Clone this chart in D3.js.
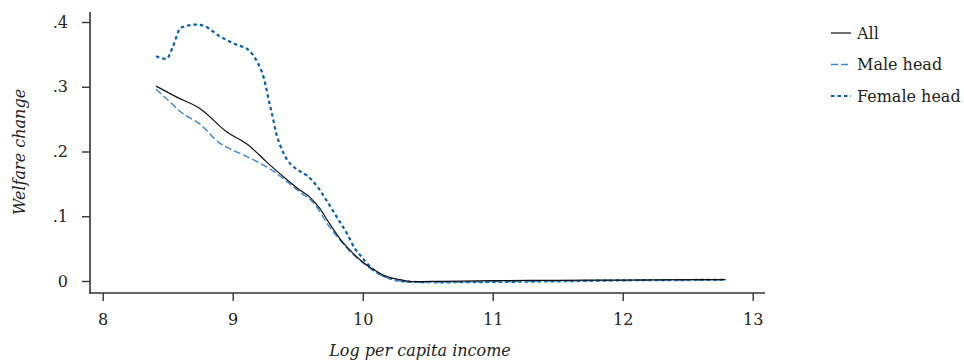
<!DOCTYPE html>
<html>
<head>
<meta charset="utf-8">
<script src="https://cdn.jsdelivr.net/npm/d3@7"></script>
<style>
  body { margin: 0; background: #fff; }
  svg text { font-family: "DejaVu Serif", serif; fill: #222; }
</style>
</head>
<body>
<div id="chart"></div>
<script>
// log per capita income (x) and welfare change (y)
var xAll = [8.41, 8.57, 8.75, 8.95, 9.12, 9.26, 9.39, 9.50, 9.60, 9.67, 9.75, 9.83, 9.90, 9.99, 10.08, 10.16, 10.29, 10.39, 10.6, 11.0, 11.5, 12.0, 12.5, 12.79];
var yAll = [0.301, 0.284, 0.266, 0.231, 0.210, 0.184, 0.161, 0.143, 0.128, 0.112, 0.087, 0.064, 0.048, 0.031, 0.018, 0.009, 0.002, -0.001, -0.0005, 0.0005, 0.001, 0.0015, 0.002, 0.0022];

var xMale = [8.41, 8.50, 8.60, 8.75, 8.90, 9.00, 9.10, 9.19, 9.31, 9.42, 9.52, 9.62, 9.75, 9.83, 9.90, 9.99, 10.08, 10.16, 10.29, 10.39, 10.6, 11.0, 11.5, 12.0, 12.5, 12.79];
var yMale = [0.296, 0.280, 0.261, 0.242, 0.213, 0.202, 0.193, 0.184, 0.170, 0.153, 0.137, 0.121, 0.082, 0.062, 0.046, 0.030, 0.016, 0.007, 0.000, -0.002, -0.002, -0.001, 0.0, 0.001, 0.0015, 0.002];

var xFemale = [8.41, 8.49, 8.54, 8.60, 8.72, 8.79, 8.90, 9.03, 9.12, 9.19, 9.24, 9.28, 9.31, 9.33, 9.37, 9.42, 9.47, 9.52, 9.57, 9.65, 9.72, 9.80, 9.88, 9.94, 9.98, 10.08, 10.21, 10.34, 10.6, 11.0, 11.5, 12.0, 12.5, 12.79];
var yFemale = [0.347, 0.343, 0.362, 0.391, 0.396, 0.393, 0.378, 0.365, 0.357, 0.338, 0.313, 0.277, 0.251, 0.232, 0.207, 0.187, 0.176, 0.169, 0.163, 0.146, 0.125, 0.099, 0.073, 0.050, 0.040, 0.018, 0.004, -0.001, -0.002, -0.0015, -0.0005, 0.001, 0.0015, 0.002];

var xTicks = [8, 9, 10, 11, 12, 13];
var yTicks = [0, 0.1, 0.2, 0.3, 0.4];
var yTickLabels = ["0", ".1", ".2", ".3", ".4"];
var seriesNames = ["All", "Male head", "Female head"];

var width = 964, height = 360;
var svg = d3.select("#chart").append("svg")
  .attr("width", width)
  .attr("height", height);

var x = d3.scaleLinear().domain([8, 13]).range([102.7, 752.7]);
var y = d3.scaleLinear().domain([0, 0.4]).range([281, 22]);

var axisColor = "#333";
var fontSize = "16px";

// axis lines
svg.append("line")
  .attr("x1", 90).attr("x2", 90).attr("y1", 12).attr("y2", 293.5)
  .style("stroke", axisColor).style("stroke-width", 1.6);
svg.append("line")
  .attr("x1", 89.2).attr("x2", 765).attr("y1", 293).attr("y2", 293)
  .style("stroke", axisColor).style("stroke-width", 1.6);

var yAxis = svg.append("g")
  .attr("transform", "translate(90,0)")
  .call(d3.axisLeft(y).tickValues(yTicks)
    .tickFormat(function (d, i) { return yTickLabels[i]; })
    .tickSize(8).tickPadding(14));
yAxis.select(".domain").remove();

var xAxis = svg.append("g")
  .attr("transform", "translate(0,293)")
  .call(d3.axisBottom(x).tickValues(xTicks).tickFormat(d3.format("d"))
    .tickSize(8).tickPadding(13));
xAxis.select(".domain").remove();

svg.selectAll(".tick line").style("stroke", axisColor).style("stroke-width", 1.4);
svg.selectAll(".tick text")
  .style("font-family", "DejaVu Serif, serif")
  .style("font-size", fontSize)
  .style("fill", "#222");

// axis titles
svg.append("text")
  .attr("x", 420).attr("y", 356)
  .attr("text-anchor", "middle")
  .style("font-size", fontSize)
  .style("font-style", "italic")
  .text("Log per capita income");

svg.append("text")
  .attr("transform", "translate(25,152) rotate(-90)")
  .attr("text-anchor", "middle")
  .style("font-size", fontSize)
  .style("font-style", "italic")
  .text("Welfare change");

// lines
var line = d3.line()
  .x(function (d) { return x(d[0]); })
  .y(function (d) { return y(d[1]); })
  .curve(d3.curveMonotoneX);

var series = [
  {name: seriesNames[0], xs: xAll, ys: yAll, color: "#111", width: 1.2, dash: null},
  {name: seriesNames[1], xs: xMale, ys: yMale, color: "#3b86c6", width: 1.4, dash: "7,3"},
  {name: seriesNames[2], xs: xFemale, ys: yFemale, color: "#0b5ea8", width: 2.2, dash: "3.5,3"}
];

// draw female first, then male, then all on top
[2, 1, 0].forEach(function (k) {
  var s = series[k];
  var pts = s.xs.map(function (v, i) { return [v, s.ys[i]]; });
  svg.append("path")
    .datum(pts)
    .attr("d", line)
    .style("fill", "none")
    .style("stroke", s.color)
    .style("stroke-width", s.width)
    .style("stroke-dasharray", s.dash);
});

// legend
var legend = svg.append("g").attr("transform", "translate(831,0)");
var legendY = [33, 64.5, 96];
series.forEach(function (s, i) {
  legend.append("line")
    .attr("x1", 0).attr("x2", 20)
    .attr("y1", legendY[i]).attr("y2", legendY[i])
    .style("stroke", s.color)
    .style("stroke-width", s.width)
    .style("stroke-dasharray", s.dash);
  legend.append("text")
    .attr("x", 26).attr("y", legendY[i])
    .attr("dy", "0.35em")
    .style("font-size", fontSize)
    .text(s.name);
});
</script>
</body>
</html>
